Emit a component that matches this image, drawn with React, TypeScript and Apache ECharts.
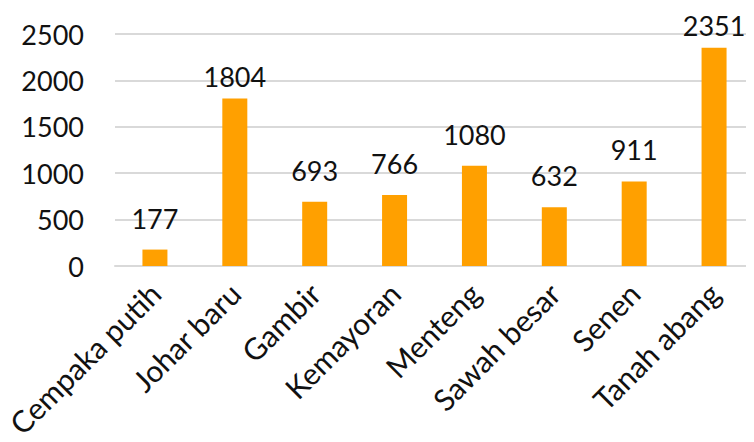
import React, { useEffect, useRef } from "react";
import * as echarts from "echarts";

const categories = ["Cempaka putih", "Johar baru", "Gambir", "Kemayoran", "Menteng", "Sawah besar", "Senen", "Tanah abang"];
const values = [177, 1804, 693, 766, 1080, 632, 911, 2351];

export default function App() {
  const ref = useRef<HTMLDivElement>(null);
  useEffect(() => {
    const chart = echarts.init(ref.current!, null, { renderer: "svg" });
    const font = "Lato, 'Open Sans', sans-serif";
    chart.setOption({
      animation: false,
      backgroundColor: "#ffffff",
      grid: { left: 115, top: 34, width: 642, height: 232, containLabel: false },
      xAxis: {
        type: "category",
        data: categories,
        axisLine: { show: true, lineStyle: { color: "#d9d9d9", width: 2 } },
        axisTick: { show: false },
        axisLabel: { rotate: 45, margin: 22, fontSize: 30, color: "#111", fontFamily: font, interval: 0 },
      },
      yAxis: {
        type: "value",
        min: 0,
        max: 2500,
        interval: 500,
        axisLine: { show: false },
        axisTick: { show: false },
        splitLine: { show: true, lineStyle: { color: "#d9d9d9", width: 2 } },
        axisLabel: { fontSize: 27, color: "#111", fontFamily: font, margin: 31, formatter: (v: number) => String(v) },
      },
      series: [
        {
          type: "bar",
          data: values.map((v) => ({ value: v, label: { distance: v > 1500 ? 9 : 18 } })),
          barWidth: 25,
          itemStyle: { color: "#FFA000" },
          label: { show: true, position: "top", fontSize: 27, color: "#111", fontFamily: font },
        },
      ],
    });
    return () => chart.dispose();
  }, []);
  return <div ref={ref} style={{ width: 754, height: 442, margin: -8 }} />;
}
